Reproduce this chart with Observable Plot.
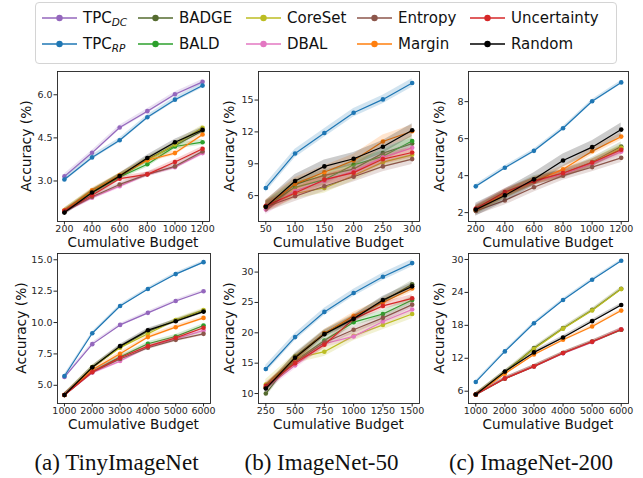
<!DOCTYPE html>
<html><head><meta charset="utf-8">
<script src="https://cdn.jsdelivr.net/npm/d3@7"></script>
<script src="https://cdn.jsdelivr.net/npm/@observablehq/plot@0.6"></script>
<style>
body{margin:0;background:#fff;}
#root{position:relative;width:643px;height:478px;overflow:hidden;font-family:"DejaVu Sans",sans-serif;color:#111;}
.abs{position:absolute;white-space:nowrap;line-height:1;}
.leg{position:absolute;left:35px;top:2px;width:580px;height:60px;border:1px solid #d4d4d4;border-radius:4px;background:#fff;}
.item{position:absolute;display:flex;align-items:center;font-size:15px;height:20px;}
.item svg{margin-right:6px;}
.sub{font-size:0.7em;font-style:italic;position:relative;top:0.3em;}
.ylab{font-size:13.8px;transform:translate(-50%,-50%) rotate(-90deg);}
.xlab{font-size:13.6px;transform:translate(-50%,-50%);}
.cap{font-family:"Liberation Serif",serif;font-size:23px;transform:translateX(-50%);}
</style></head><body><div id="root"></div>
<script>
// ---------------- data ----------------
const methods = ["TPC_DC","TPC_RP","BADGE","BALD","CoreSet","DBAL","Entropy","Margin","Uncertainty","Random"];
const methodColors = ["#9467bd","#1f77b4","#556b2f","#2ca02c","#bcbd22","#e377c2","#8c564b","#ff7f0e","#d62728","#000000"];

const budgetsTop = [200,400,600,800,1000,1200];
const budgetsIN50Top = [50,100,150,200,250,300];
const budgetsBottom = [1000,2000,3000,4000,5000,6000];
const budgetsIN50Bottom = [250,500,750,1000,1250,1500];

// rows follow `methods`; null = method not shown
const tinyTopAcc = [
  [3.16,3.98,4.86,5.43,6.02,6.45],
  [3.05,3.82,4.42,5.22,5.83,6.32],
  [1.92,2.60,3.15,3.75,4.23,4.75],
  [1.96,2.62,3.14,3.58,4.20,4.35],
  [1.95,2.62,3.18,3.72,4.27,4.85],
  [1.93,2.42,2.82,3.23,3.48,3.97],
  [1.93,2.45,2.88,3.23,3.51,4.03],
  [1.98,2.68,3.20,3.72,3.97,4.62],
  [1.96,2.50,3.08,3.23,3.66,4.12],
  [1.90,2.60,3.17,3.80,4.35,4.78]
];
const tinyTopStd = [0.08,0.08,0.1,0.1,0.1,0.08,0.08,0.08,0.08,0.1];

const in50TopAcc = [
  null,
  [6.72,9.97,11.90,13.80,15.06,16.60],
  [5.00,7.06,7.90,8.50,10.00,10.90],
  [5.00,6.78,7.50,8.90,9.70,11.15],
  [4.90,6.20,6.72,7.90,9.15,9.84],
  [4.69,6.44,7.38,8.30,9.60,10.50],
  [4.94,5.94,6.88,7.78,8.75,9.44],
  [5.00,7.10,8.20,9.30,11.10,12.06],
  [5.03,6.25,7.50,8.16,9.44,10.06],
  [4.94,7.38,8.75,9.47,10.60,12.16]
];
const in50TopStd = [0,0.4,0.5,0.5,0.5,0.5,0.5,0.6,0.5,0.6];

const in200TopAcc = [
  null,
  [3.42,4.43,5.34,6.56,8.02,9.04],
  [2.13,2.98,3.75,4.10,4.73,5.57],
  [2.15,3.00,3.72,4.12,4.68,5.45],
  [2.12,2.95,3.70,4.08,4.70,5.50],
  [2.14,3.00,3.68,4.08,4.65,5.30],
  [2.09,2.66,3.37,4.00,4.46,4.96],
  [2.16,3.02,3.70,4.34,5.32,6.11],
  [2.22,3.11,3.70,4.14,4.71,5.40],
  [2.16,2.93,3.80,4.82,5.54,6.49]
];
const in200TopStd = [0,0.1,0.25,0.2,0.2,0.2,0.25,0.2,0.2,0.35];

const tinyBottomAcc = [
  [5.66,8.28,9.81,10.77,11.72,12.49],
  [5.74,9.15,11.32,12.67,13.86,14.81],
  [4.23,6.40,8.05,9.30,10.15,10.90],
  [4.23,6.10,7.25,8.31,8.89,9.76],
  [4.23,6.45,8.00,9.10,10.20,11.00],
  [4.23,6.00,6.93,8.05,8.70,9.37],
  [4.23,6.05,7.10,7.99,8.62,9.10],
  [4.23,6.24,7.51,8.84,9.63,10.37],
  [4.23,6.06,7.20,8.12,8.78,9.58],
  [4.23,6.43,8.12,9.39,10.10,10.87]
];
const tinyBottomStd = [0.12,0.12,0.15,0.15,0.15,0.15,0.15,0.15,0.15,0.15];

const in50BottomAcc = [
  null,
  [14.04,19.29,23.44,26.56,29.23,31.48],
  [10.00,16.10,19.95,22.45,25.20,28.00],
  [11.00,15.36,18.74,21.75,23.10,25.40],
  [11.50,15.74,16.89,19.50,21.30,23.10],
  [10.90,14.64,18.20,19.40,21.86,23.83],
  [11.00,15.20,18.40,20.50,22.46,24.64],
  [11.00,15.80,19.90,22.80,25.00,27.30],
  [11.26,15.00,18.03,22.30,24.43,25.68],
  [10.82,15.90,19.78,22.30,25.40,27.65]
];
const in50BottomStd = [0,0.6,0.6,0.6,0.8,0.6,0.6,0.6,0.6,0.6];

const in200BottomAcc = [
  null,
  [7.69,13.25,18.39,22.63,26.31,29.76],
  [5.40,9.50,13.86,17.49,20.81,24.68],
  [5.40,8.30,10.55,12.95,15.00,17.20],
  [5.40,9.45,13.70,17.40,20.70,24.60],
  [5.40,8.35,10.50,12.90,14.95,17.30],
  [5.40,8.30,10.50,12.95,15.05,17.20],
  [5.40,9.20,12.70,15.37,17.79,20.69],
  [5.40,8.30,10.53,12.95,15.00,17.25],
  [5.40,9.57,13.07,15.79,18.76,21.72]
];
const in200BottomStd = [0,0.25,0.3,0.3,0.3,0.3,0.3,0.3,0.3,0.3];

const yTicksTinyTop = [3.0,4.5,6.0];
const yTicksIN50Top = [6,9,12,15];
const yTicksIN200Top = [2,4,6,8];
const yTicksTinyBottom = [5.0,7.5,10.0,12.5,15.0];
const yTicksIN50Bottom = [10,15,20,25,30];
const yTicksIN200Bottom = [6,12,18,24,30];

const captions = ["(a) TinyImageNet","(b) ImageNet-50","(c) ImageNet-200"];
const xLabel = "Cumulative Budget";
const yLabel = "Accuracy (%)";

// ---------------- layout ----------------
const panels = [
  {b:budgetsTop, acc:tinyTopAcc, sd:tinyTopStd, yt:yTicksTinyTop, fmt:".1f", fx:[57,209], fy:[71,221], yd:[1.59,6.81], yl:30},
  {b:budgetsIN50Top, acc:in50TopAcc, sd:in50TopStd, yt:yTicksIN50Top, fmt:"d", fx:[258,419], fy:[71,221], yd:[3.56,17.69], yl:28},
  {b:budgetsTop, acc:in200TopAcc, sd:in200TopStd, yt:yTicksIN200Top, fmt:"d", fx:[468,628], fy:[71,221], yd:[1.52,9.63], yl:28},
  {b:budgetsBottom, acc:tinyBottomAcc, sd:tinyBottomStd, yt:yTicksTinyBottom, fmt:".1f", fx:[57,210], fy:[253,403], yd:[3.55,15.5], yl:35},
  {b:budgetsIN50Bottom, acc:in50BottomAcc, sd:in50BottomStd, yt:yTicksIN50Bottom, fmt:"d", fx:[258,419], fy:[253,403], yd:[8.36,33.06], yl:28},
  {b:budgetsBottom, acc:in200BottomAcc, sd:in200BottomStd, yt:yTicksIN200Bottom, fmt:"d", fx:[468,628], fy:[253,403], yd:[3.76,31.09], yl:28}
];

const root = document.getElementById("root");
function addText(cls, text, x, y){
  const d = document.createElement("div");
  d.className = "abs " + cls; d.textContent = text;
  d.style.left = x + "px"; d.style.top = y + "px";
  root.appendChild(d); return d;
}

const ML = 40, MR = 8, MT = 4, MB = 20;
panels.forEach((p) => {
  const fw = p.fx[1]-p.fx[0], fh = p.fy[1]-p.fy[0];
  const bmin = p.b[0], bmax = p.b[p.b.length-1], pad = (bmax-bmin)*0.05;
  const marks = [];
  methods.forEach((m, k) => {
    const vals = p.acc[k];
    if (!vals) return;
    const rows = p.b.map((x, i) => ({x, y: vals[i], lo: vals[i]-p.sd[k], hi: vals[i]+p.sd[k]}));
    const c = methodColors[k];
    marks.push(Plot.areaY(rows, {x:"x", y1:"lo", y2:"hi", fill:c, fillOpacity:0.2}));
    marks.push(Plot.lineY(rows, {x:"x", y:"y", stroke:c, strokeWidth:1.2}));
    marks.push(Plot.dot(rows, {x:"x", y:"y", fill:c, r:2.3}));
  });
  marks.push(Plot.axisX({ticks:p.b, tickSize:3.5, tickPadding:0.5, tickFormat:d3.format("d"), label:null}));
  marks.push(Plot.axisY({ticks:p.yt, tickSize:3.5, tickPadding:1.5, tickFormat:d3.format(p.fmt), label:null}));
  marks.push(Plot.frame({stroke:"#222", strokeWidth:0.9}));
  const svg = Plot.plot({
    width: ML+fw+MR, height: MT+fh+MB,
    marginLeft:ML, marginRight:MR, marginTop:MT, marginBottom:MB,
    x:{domain:[bmin-pad, bmax+pad]},
    y:{domain:p.yd},
    style:{fontFamily:"DejaVu Sans", fontSize:"9.5px", color:"#262626", background:"transparent", overflow:"visible"},
    marks
  });
  svg.style.position = "absolute";
  svg.style.left = (p.fx[0]-ML) + "px";
  svg.style.top = (p.fy[0]-MT) + "px";
  root.appendChild(svg);
  addText("ylab", yLabel, p.fx[0]-p.yl, (p.fy[0]+p.fy[1])/2);
  addText("xlab", xLabel, (p.fx[0]+p.fx[1])/2, p.fy[1]+21.5);
});

// captions
[0,1,2].forEach(i => {
  const p = panels[i+3];
  addText("cap", captions[i], (p.fx[0]+p.fx[1])/2 - 17, 451);
});

// legend
const leg = document.createElement("div");
leg.className = "leg";
root.appendChild(leg);
const colX = [6, 102, 210, 321, 434];
const rowY = [5, 31];
methods.forEach((name, k) => {
  const col = Math.floor(k/2), row = k%2;
  const it = document.createElement("div");
  it.className = "item";
  it.style.left = colX[col] + "px"; it.style.top = rowY[row] + "px";
  const c = methodColors[k];
  it.innerHTML = `<svg width="35" height="10"><line x1="0" y1="5" x2="35" y2="5" stroke="${c}" stroke-width="1.5"/><circle cx="17.5" cy="5" r="3.2" fill="${c}"/></svg>`;
  const span = document.createElement("span");
  if (name.startsWith("TPC_")) {
    span.append("TPC");
    const s = document.createElement("span"); s.className = "sub"; s.textContent = name.slice(4);
    span.appendChild(s);
  } else span.textContent = name;
  it.appendChild(span);
  leg.appendChild(it);
});
</script></body></html>
